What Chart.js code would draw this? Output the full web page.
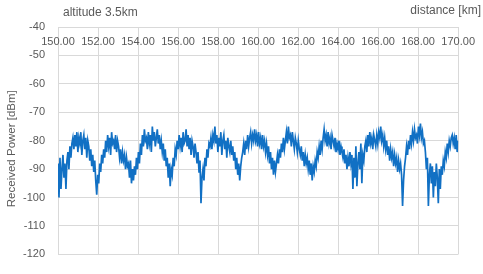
<!DOCTYPE html>
<html>
<head>
<meta charset="utf-8">
<script src="https://cdn.jsdelivr.net/npm/chart.js@4.4.1/dist/chart.umd.min.js"></script>
<style>
  html, body { margin: 0; padding: 0; background: #ffffff; }
  #wrap { width: 483px; height: 274px; position: relative; }
</style>
</head>
<body>
<div id="wrap"><canvas id="c" width="483" height="274"></canvas></div>
<script>
// ---- data ----
const chartTitle = "altitude 3.5km";
const xAxisTitle = "distance [km]";
const yAxisTitle = "Received Power [dBm]";
const distanceStartKm = 150;
const distanceEndKm = 170;
const xTickValues = [150, 152, 154, 156, 158, 160, 162, 164, 166, 168, 170];
const yTickValues = [-40, -50, -60, -70, -80, -90, -100, -110, -120];

// received power samples, evenly spaced over 150–170 km
const receivedPower = [
  -88, -100, -86, -97, -90,
  -85, -93, -88, -97, -87,
  -84, -90, -82, -86, -81,
  -79, -83, -78, -82, -77, -84, -79, -81, -77, -85, -80, -78, -83, -79, -86, -80,
  -82, -87, -83, -89, -85, -91, -87,
  -94, -99, -92,
  -95, -88, -91, -85, -88, -83, -86,
  -80, -84, -78, -82, -79, -85, -77, -81, -80, -83, -78, -84, -80,
  -82, -86, -83, -88, -84, -87, -85, -90, -86, -89, -88, -93, -87, -95,
  -90, -94, -89, -92, -86, -90,
  -84, -88, -81, -85,
  -78, -82, -76, -80, -79, -83, -77, -81, -78, -84, -75, -80, -77, -82, -79, -76, -81, -78, -83, -80,
  -84, -81, -87, -83, -89, -86, -93, -88, -96, -90,
  -92, -86, -89, -83, -85,
  -80, -83, -78, -82, -79, -84, -77, -81, -80, -76, -82, -78, -83, -79, -85, -80, -82, -86, -81, -84,
  -88, -84, -91, -87,
  -102, -93,
  -90, -94, -86, -89, -83, -86, -81,
  -82, -79, -83, -78, -80, -75, -81, -78, -84, -79, -82, -77, -85, -80, -78, -83, -80, -86, -79, -82, -84, -80, -85, -82,
  -87, -84, -90, -86, -92, -88, -94, -89, -86,
  -84, -81, -85, -80, -83, -78, -82, -79, -77, -81, -78, -80,
  -76, -80, -78, -82, -77, -81, -79, -83, -78, -82, -80, -84, -81,
  -85, -82, -88, -84, -90, -86, -92, -87, -91, -88,
  -85, -88, -83, -86, -81, -84, -79, -83, -80,
  -77, -81, -75, -79, -78, -82, -77, -80, -83, -79, -81, -84, -80, -83,
  -85, -82, -87, -84, -89, -85, -88, -86, -90, -87, -92, -88, -94, -89,
  -91, -87, -89, -84, -86, -82, -85, -80, -83,
  -79, -76, -80, -78, -82, -77, -81, -79, -83, -78, -80, -82, -79, -84, -81, -83, -80, -85, -82, -84,
  -86, -83, -88, -85, -90, -86, -89, -84, -88, -85,
  -97, -86, -93, -82, -96, -88,
  -84, -90, -81, -95, -85, -87, -82,
  -80, -84, -78, -82, -77, -81, -79, -83, -78, -80, -82, -78, -81, -77, -79, -75, -80, -78, -82, -79,
  -83, -80, -85, -82, -87, -83, -86, -84, -89, -85, -88, -86, -91, -87, -90, -88, -92,
  -103, -94, -89,
  -86, -82, -85, -80, -83, -78, -81,
  -77, -80, -76, -79, -78, -81, -75, -78, -74, -79, -77, -81, -80,
  -84, -90, -86, -103, -92, -88, -95, -89, -100, -91, -96, -88, -93, -102, -90, -97, -89,
  -92, -87, -89, -84, -86, -81, -84, -80, -82, -79,
  -78, -81, -79, -83,
  -78, -84, -80
];

const stepKm = (distanceEndKm - distanceStartKm) / (receivedPower.length - 1);
const points = receivedPower.map((v, i) => ({ x: distanceStartKm + i * stepKm, y: v }));

const textColor = '#595959';
const gridColor = '#d9d9d9';
const fontFamily = "'Liberation Sans', Arial, sans-serif";

const textPlugin = {
  id: 'textPlugin',
  afterDraw(chart) {
    const ctx = chart.ctx;
    const area = chart.chartArea;
    ctx.save();
    ctx.fillStyle = textColor;
    ctx.font = "12px " + fontFamily;
    ctx.textBaseline = 'middle';
    ctx.textAlign = 'left';
    ctx.fillText(chartTitle, area.left + 5, 13);
    ctx.textAlign = 'right';
    ctx.fillText(xAxisTitle, chart.width - 2, 11);
    ctx.translate(12, (area.top + area.bottom) / 2 + 8);
    ctx.rotate(-Math.PI / 2);
    ctx.textAlign = 'center';
    ctx.font = "11.5px " + fontFamily;
    ctx.fillText(yAxisTitle, 0, 0);
    ctx.restore();
  }
};

new Chart(document.getElementById('c'), {
  type: 'line',
  data: {
    datasets: [{
      data: points,
      borderColor: '#1170c4',
      borderWidth: 1.7,
      pointRadius: 0,
      tension: 0,
      fill: false
    }]
  },
  options: {
    responsive: false,
    animation: false,
    devicePixelRatio: 1,
    layout: { padding: { top: 27, bottom: 7, right: 22, left: 0 } },
    plugins: { legend: { display: false }, tooltip: { enabled: false } },
    scales: {
      x: {
        type: 'linear',
        position: { y: -40 },
        min: distanceStartKm,
        max: distanceEndKm,
        afterBuildTicks(scale) { scale.ticks = xTickValues.map(v => ({ value: v })); },
        grid: { color: gridColor, drawTicks: false, lineWidth: 1 },
        border: { display: false },
        ticks: {
          padding: 8,
          color: textColor,
          font: { family: fontFamily, size: 11 },
          maxRotation: 0,
          autoSkip: false,
          callback: v => Number(v).toFixed(2)
        }
      },
      y: {
        type: 'linear',
        position: 'left',
        min: -120,
        max: -40,
        afterBuildTicks(scale) { scale.ticks = yTickValues.map(v => ({ value: v })); },
        afterFit(scale) { scale.width = 58; },
        grid: { color: gridColor, drawTicks: false, lineWidth: 1 },
        border: { display: false },
        ticks: {
          padding: 13,
          color: textColor,
          font: { family: fontFamily, size: 11 }
        }
      }
    }
  },
  plugins: [textPlugin]
});
</script>
</body>
</html>
